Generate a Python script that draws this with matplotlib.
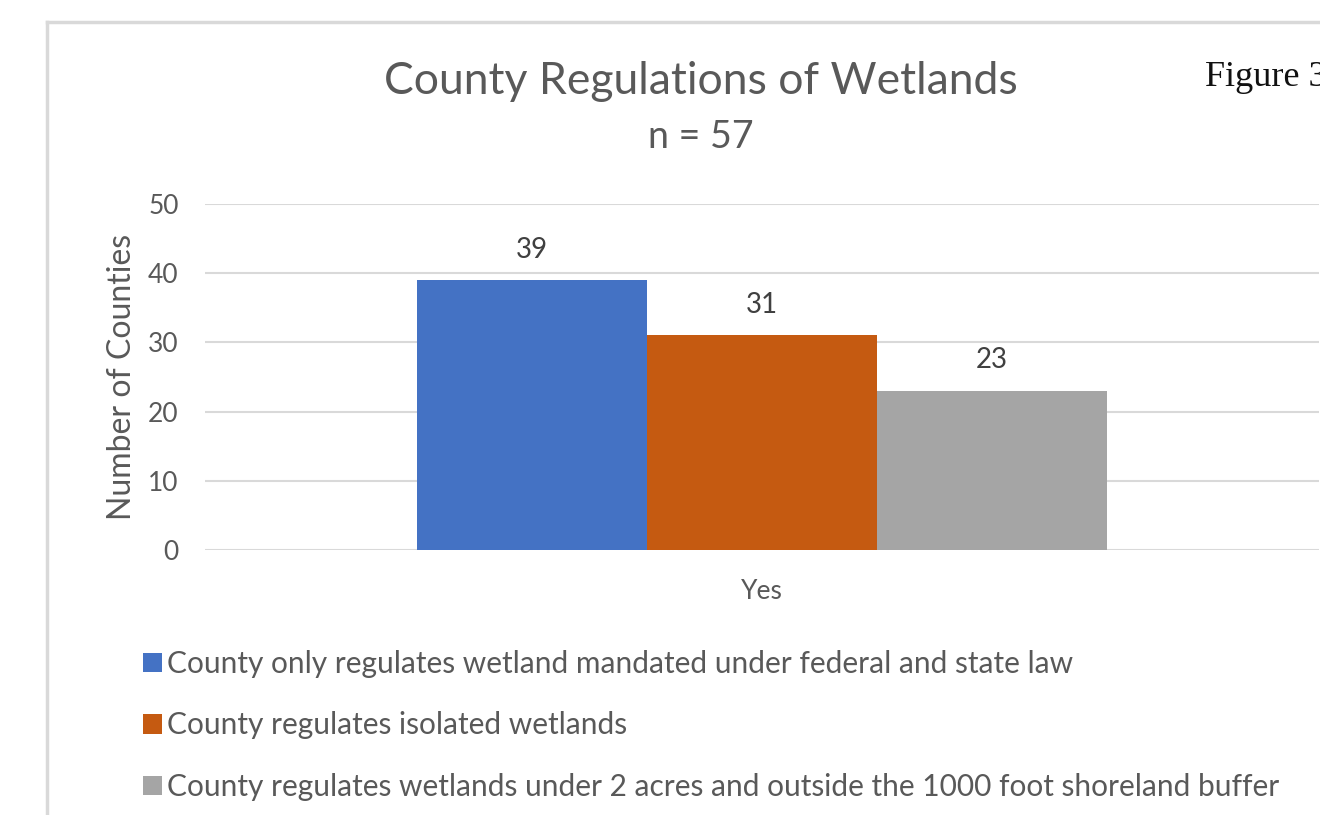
import matplotlib
matplotlib.use('Agg')
import matplotlib.pyplot as plt
from matplotlib.lines import Line2D
import numpy as np

plt.rcParams['font.family'] = ['Lato', 'DejaVu Sans']

# data
category = 'Yes'
series_names = ['County only regulates wetland mandated under federal and state law',
                'County regulates isolated wetlands',
                'County regulates wetlands under 2 acres and outside the 1000 foot shoreland buffer']
values = [39, 31, 23]
colors = ['#4472c4', '#c55a11', '#a5a5a5']
yticks = [0, 10, 20, 30, 40, 50]

txt = '#595959'
grid = '#d9d9d9'

fig = plt.figure(figsize=(13.2, 8.15), dpi=100)
ax = fig.add_axes([0.1553, 0.3252, 0.8440, 0.4245])

bw = 0.2065
offsets = (np.arange(len(values)) - 1) * bw
bars = []
for off, v, c, name in zip(offsets, values, colors, series_names):
    b = ax.bar(off, v, width=bw, color=c, label=name, zorder=3)
    bars.append(b)
    ax.text(off, v + 4.4, str(v), ha='center', va='center', fontsize=20, color='#404040')

ax.set_xlim(-0.5, 0.5)
ax.set_ylim(0, 50)
ax.set_yticks(yticks)
ax.set_xticks([0])
ax.set_xticklabels([category])
ax.tick_params(axis='both', length=0, labelsize=19, labelcolor=txt)
ax.tick_params(axis='y', pad=19)
ax.tick_params(axis='x', pad=21)
ax.yaxis.grid(True, color=grid, linewidth=1.5, zorder=0)
for s in ax.spines.values():
    s.set_visible(False)
ax.set_ylabel('Number of Counties', fontsize=23, color=txt, labelpad=8)

fig.text(0.531, 1 - 81 / 815, 'County Regulations of Wetlands', ha='center', va='center',
         fontsize=32, color=txt)
fig.text(0.531, 1 - 137 / 815, 'n = 57', ha='center', va='center', fontsize=27, color=txt)
# the page cuts this caption off at the right edge, as in the source
fig.text(1205 / 1320, 1 - 77 / 815, 'Figure 3', ha='left', va='center', fontsize=26,
         family='Liberation Serif', color='#111111')

# frame of the chart area
fig.add_artist(Line2D([47 / 1320, 1], [1 - 22 / 815, 1 - 22 / 815], color=grid, linewidth=2.5))
fig.add_artist(Line2D([47 / 1320, 47 / 1320], [0, 1 - 22 / 815], color=grid, linewidth=2.5))

fig.legend(handles=[b for b in bars], labels=series_names, loc='upper left',
           bbox_to_anchor=(143 / 1320, 1 - 650 / 815), frameon=False, fontsize=21.5,
           labelcolor=txt, handlelength=0.62, handleheight=0.62, handletextpad=0.2,
           labelspacing=1.12, borderaxespad=0, borderpad=0)

fig.savefig('out.png', dpi=100, facecolor='white')
